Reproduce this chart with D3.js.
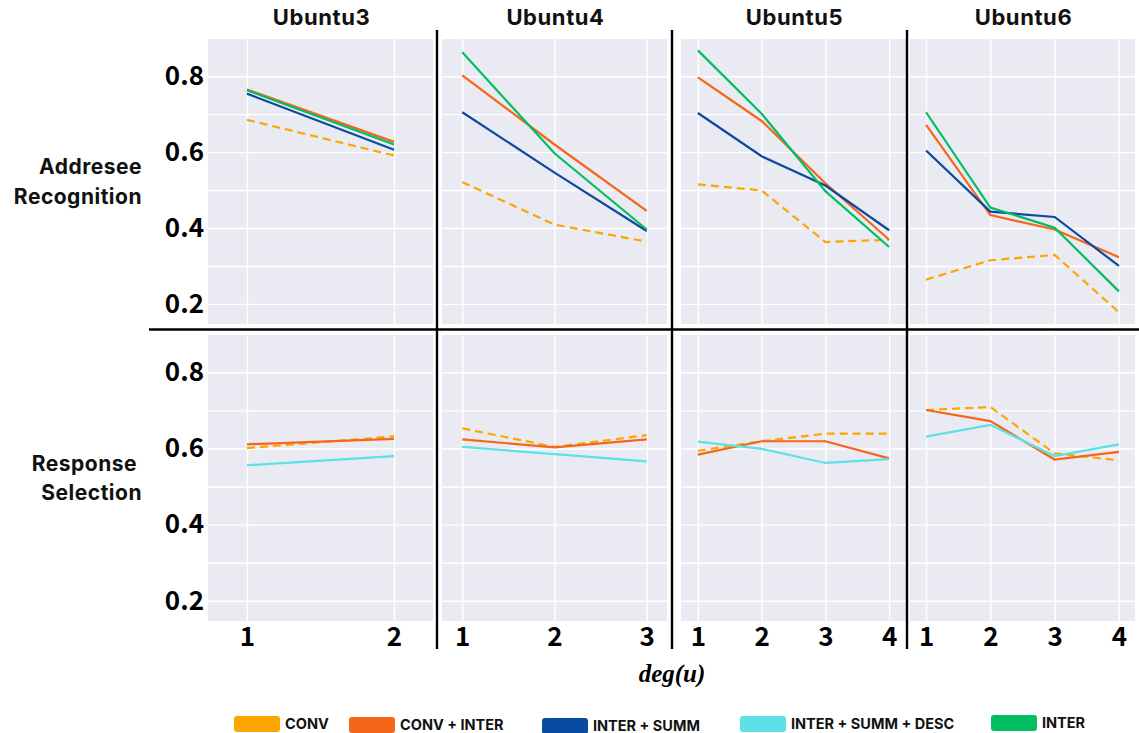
<!DOCTYPE html>
<html>
<head>
<meta charset="utf-8">
<script src="https://cdn.jsdelivr.net/npm/d3@7"></script>
<style>
  html, body { margin: 0; padding: 0; background: #fff; }
  svg { display: block; }
</style>
</head>
<body>
<svg id="chart" width="1139" height="733"></svg>
<script>
// datasets (columns) and x-axis degrees
const panels = ["Ubuntu3", "Ubuntu4", "Ubuntu5", "Ubuntu6"];
const degCounts = [2, 3, 4, 4];
const rowLabels = [["Addresee", "Recognition"], ["Response", "Selection"]];
const yTicks = [0.2, 0.4, 0.6, 0.8];
const yGrid = [0.2, 0.3, 0.4, 0.5, 0.6, 0.7, 0.8];

// Addresee Recognition (top row), one list per panel
const arConv = [[0.685, 0.591], [0.521, 0.409, 0.364], [0.515, 0.499, 0.363, 0.369], [0.264, 0.315, 0.329, 0.178]];
const arConvInter = [[0.765, 0.627], [0.802, 0.620, 0.445], [0.797, 0.682, 0.518, 0.369], [0.672, 0.434, 0.396, 0.323]];
const arInterSumm = [[0.754, 0.606], [0.705, 0.546, 0.392], [0.703, 0.589, 0.512, 0.394], [0.604, 0.443, 0.429, 0.300]];
const arInter = [[0.763, 0.620], [0.863, 0.597, 0.396], [0.868, 0.701, 0.497, 0.350], [0.705, 0.454, 0.401, 0.233]];

// Response Selection (bottom row)
const rsConv = [[0.601, 0.632], [0.653, 0.604, 0.635], [0.594, 0.619, 0.639, 0.639], [0.701, 0.709, 0.587, 0.569]];
const rsConvInter = [[0.611, 0.625], [0.624, 0.603, 0.624], [0.584, 0.619, 0.619, 0.574], [0.701, 0.672, 0.571, 0.591]];
const rsDesc = [[0.556, 0.580], [0.604, 0.585, 0.566], [0.618, 0.599, 0.562, 0.572], [0.631, 0.662, 0.580, 0.611]];

const legendNames = ["CONV", "CONV + INTER", "INTER + SUMM", "INTER + SUMM + DESC", "INTER"];
const colors = {
  "CONV": "#FFA500",
  "CONV + INTER": "#F6661A",
  "INTER + SUMM": "#0A4AA0",
  "INTER + SUMM + DESC": "#5CE1E6",
  "INTER": "#00BF63"
};

const rows = [
  [
    { name: "CONV", values: arConv, dash: true },
    { name: "CONV + INTER", values: arConvInter },
    { name: "INTER + SUMM", values: arInterSumm },
    { name: "INTER", values: arInter }
  ],
  [
    { name: "CONV", values: rsConv, dash: true },
    { name: "CONV + INTER", values: rsConvInter },
    { name: "INTER + SUMM + DESC", values: rsDesc }
  ]
];

// layout
const panelX = [[208, 433], [442, 667], [681, 906], [910, 1135]];
const xPad = [0.265, 0.22, 0.265, 0.25];
const rowY = [[39, 324], [335, 621]];
const yDomain = [0.147, 0.898];
const bg = "#EAEAF2";
const sansBold = "Inter, 'Open Sans', sans-serif";
const tickFont = "'Noto Sans CJK SC', 'Noto Sans', sans-serif";

const svg = d3.select("#chart");

rows.forEach((series, r) => {
  const y = d3.scaleLinear().domain(yDomain).range([rowY[r][1], rowY[r][0]]);

  panels.forEach((p, c) => {
    const n = degCounts[c];
    const degs = d3.range(1, n + 1);
    const x = d3.scaleLinear()
      .domain([1 - xPad[c], n + xPad[c]])
      .range(panelX[c]);

    const g = svg.append("g");

    g.append("rect")
      .attr("x", panelX[c][0])
      .attr("y", rowY[r][0])
      .attr("width", panelX[c][1] - panelX[c][0])
      .attr("height", rowY[r][1] - rowY[r][0])
      .attr("fill", bg);

    // grid
    g.append("g")
      .attr("transform", `translate(${panelX[c][0]},0)`)
      .call(d3.axisLeft(y).tickValues(yGrid).tickSize(-(panelX[c][1] - panelX[c][0])).tickFormat(""))
      .call((sel) => sel.select(".domain").remove())
      .call((sel) => sel.selectAll("line").attr("stroke", "#fff").attr("stroke-width", 1.4));

    g.append("g")
      .attr("transform", `translate(0,${rowY[r][1]})`)
      .call(d3.axisBottom(x).tickValues(degs).tickSize(-(rowY[r][1] - rowY[r][0])).tickFormat(""))
      .call((sel) => sel.select(".domain").remove())
      .call((sel) => sel.selectAll("line").attr("stroke", "#fff").attr("stroke-width", 1.4));

    const line = d3.line()
      .x((d, i) => x(i + 1))
      .y((d) => y(d));

    series.forEach((s) => {
      g.append("path")
        .datum(s.values[c])
        .attr("fill", "none")
        .attr("stroke", colors[s.name])
        .attr("stroke-width", 2.2)
        .attr("stroke-dasharray", s.dash ? "8,5" : null)
        .attr("d", line);
    });

    // y tick labels on first column
    if (c === 0) {
      g.append("g")
        .attr("transform", `translate(${panelX[0][0]},0)`)
        .call(d3.axisLeft(y).tickValues(yTicks).tickSize(0).tickPadding(4).tickFormat(d3.format(".1f")))
        .call((sel) => sel.select(".domain").remove())
        .call((sel) => sel.selectAll("text")
          .attr("font-family", tickFont)
          .attr("font-weight", 700)
          .attr("font-size", 26)
          .attr("fill", "#000"));
    }

    // x tick labels under bottom row
    if (r === 1) {
      g.append("g")
        .attr("transform", `translate(0,${rowY[1][1]})`)
        .call(d3.axisBottom(x).tickValues(degs).tickSize(0).tickPadding(7).tickFormat(d3.format("d")))
        .call((sel) => sel.select(".domain").remove())
        .call((sel) => sel.selectAll("text")
          .attr("font-family", tickFont)
          .attr("font-weight", 700)
          .attr("font-size", 26)
          .attr("fill", "#000"));
    }

    if (r === 0) {
      svg.append("text")
        .attr("x", (panelX[c][0] + panelX[c][1]) / 2 + 1)
        .attr("y", 25)
        .attr("text-anchor", "middle")
        .attr("font-family", sansBold)
        .attr("font-weight", 700)
        .attr("font-size", 22)
        .attr("letter-spacing", 0.6)
        .attr("fill", "#111")
        .text(p);
    }
  });

  // row label
  const labelY = [[174, 204], [471, 500]];
  const labelX = [[142, 142], [137, 142]];
  rowLabels[r].forEach((t, i) => {
    svg.append("text")
      .attr("x", labelX[r][i])
      .attr("y", labelY[r][i])
      .attr("text-anchor", "end")
      .attr("font-family", sansBold)
      .attr("font-weight", 700)
      .attr("font-size", 21)
      .attr("letter-spacing", 0.5)
      .attr("fill", "#111")
      .text(t);
  });
});

// separator lines
const sep = svg.append("g").attr("stroke", "#000").attr("stroke-width", 2.4);
[437, 672, 907].forEach((vx) => {
  sep.append("line").attr("x1", vx).attr("x2", vx).attr("y1", 30).attr("y2", 649);
});
sep.append("line").attr("x1", 149).attr("x2", 1139).attr("y1", 329.5).attr("y2", 329.5);

// x axis title
svg.append("text")
  .attr("x", 672)
  .attr("y", 682)
  .attr("text-anchor", "middle")
  .attr("font-family", "'Liberation Serif', 'DejaVu Serif', serif")
  .attr("font-style", "italic")
  .attr("font-weight", 700)
  .attr("font-size", 25)
  .attr("fill", "#000")
  .text("deg(u)");

// legend
const legendX = [234, 349, 542, 740, 991];
const legendY = [716, 717, 718, 716, 715];
const leg = svg.append("g");
legendNames.forEach((name, i) => {
  leg.append("rect")
    .attr("x", legendX[i])
    .attr("y", legendY[i])
    .attr("width", 46)
    .attr("height", 16)
    .attr("rx", 3)
    .attr("fill", colors[name]);
  leg.append("text")
    .attr("x", legendX[i] + 51)
    .attr("y", legendY[i] + 8)
    .attr("dy", "0.35em")
    .attr("font-family", sansBold)
    .attr("font-weight", 700)
    .attr("font-size", 14.5)
    .attr("fill", "#111")
    .text(name);
});
</script>
</body>
</html>
